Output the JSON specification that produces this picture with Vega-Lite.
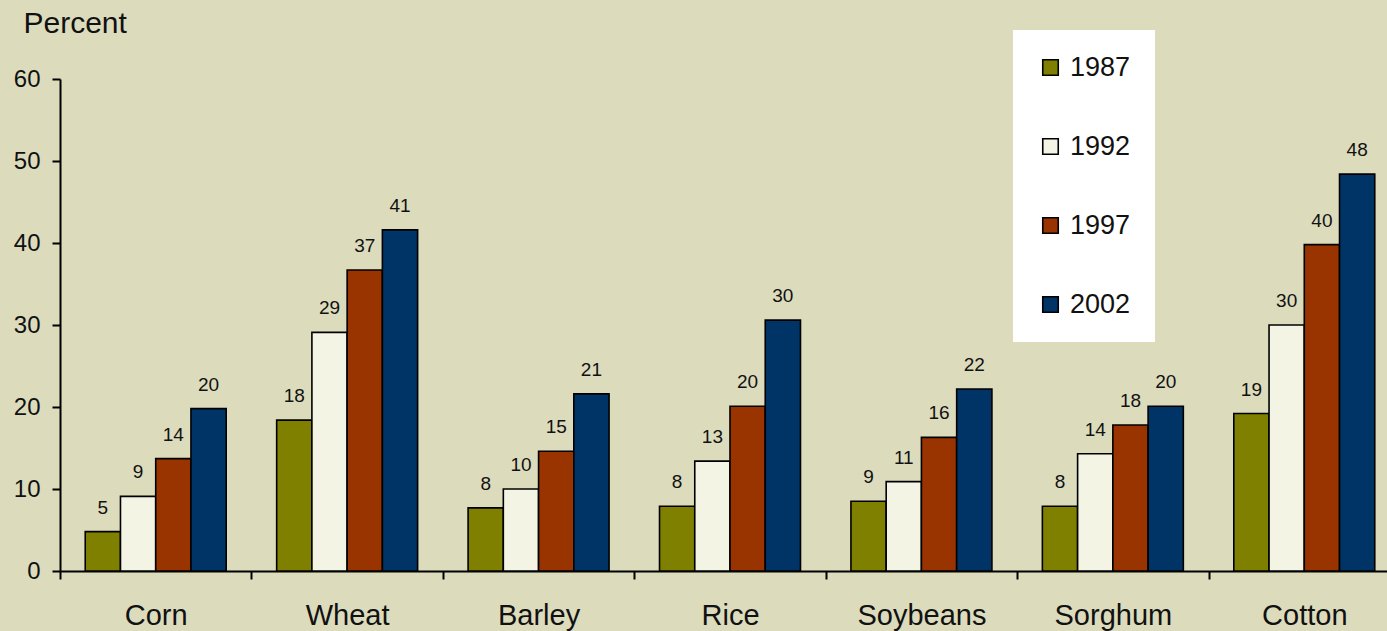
{
  "$schema": "https://vega.github.io/schema/vega-lite/v6.json",
  "width": 1340,
  "height": 492,
  "autosize": {"type": "none"},
  "padding": {"left": 60, "top": 79, "right": -13, "bottom": 60},
  "background": "#dcdcbd",
  "config": {
    "view": {"stroke": null},
    "font": "Liberation Sans",
    "axis": {"domainColor": "#000000", "tickColor": "#000000", "labelColor": "#111111", "titleColor": "#111111", "domainWidth": 2, "tickWidth": 2, "grid": false}
  },
  "data": {
    "values": [
      {"crop": "Corn", "year": "1987", "value": 4.8, "label": "5"},
      {"crop": "Corn", "year": "1992", "value": 9.1, "label": "9"},
      {"crop": "Corn", "year": "1997", "value": 13.7, "label": "14"},
      {"crop": "Corn", "year": "2002", "value": 19.8, "label": "20"},
      {"crop": "Wheat", "year": "1987", "value": 18.4, "label": "18"},
      {"crop": "Wheat", "year": "1992", "value": 29.1, "label": "29"},
      {"crop": "Wheat", "year": "1997", "value": 36.7, "label": "37"},
      {"crop": "Wheat", "year": "2002", "value": 41.6, "label": "41"},
      {"crop": "Barley", "year": "1987", "value": 7.7, "label": "8"},
      {"crop": "Barley", "year": "1992", "value": 10.0, "label": "10"},
      {"crop": "Barley", "year": "1997", "value": 14.6, "label": "15"},
      {"crop": "Barley", "year": "2002", "value": 21.6, "label": "21"},
      {"crop": "Rice", "year": "1987", "value": 7.9, "label": "8"},
      {"crop": "Rice", "year": "1992", "value": 13.4, "label": "13"},
      {"crop": "Rice", "year": "1997", "value": 20.1, "label": "20"},
      {"crop": "Rice", "year": "2002", "value": 30.6, "label": "30"},
      {"crop": "Soybeans", "year": "1987", "value": 8.5, "label": "9"},
      {"crop": "Soybeans", "year": "1992", "value": 10.9, "label": "11"},
      {"crop": "Soybeans", "year": "1997", "value": 16.3, "label": "16"},
      {"crop": "Soybeans", "year": "2002", "value": 22.2, "label": "22"},
      {"crop": "Sorghum", "year": "1987", "value": 7.9, "label": "8"},
      {"crop": "Sorghum", "year": "1992", "value": 14.3, "label": "14"},
      {"crop": "Sorghum", "year": "1997", "value": 17.8, "label": "18"},
      {"crop": "Sorghum", "year": "2002", "value": 20.1, "label": "20"},
      {"crop": "Cotton", "year": "1987", "value": 19.2, "label": "19"},
      {"crop": "Cotton", "year": "1992", "value": 30.0, "label": "30"},
      {"crop": "Cotton", "year": "1997", "value": 39.8, "label": "40"},
      {"crop": "Cotton", "year": "2002", "value": 48.4, "label": "48"}
    ]
  },
  "encoding": {
    "x": {
      "field": "crop",
      "type": "nominal",
      "sort": ["Corn", "Wheat", "Barley", "Rice", "Soybeans", "Sorghum", "Cotton"],
      "scale": {"paddingInner": 0, "paddingOuter": 0},
      "axis": {"title": null, "labelAngle": 0, "labelFontSize": 29, "labelPadding": 22, "tickSize": 8, "tickBand": "extent", "labelBaseline": "top"}
    },
    "xOffset": {
      "field": "year",
      "type": "nominal",
      "scale": {"paddingInner": 0, "paddingOuter": 0.716}
    },
    "y": {
      "field": "value",
      "type": "quantitative",
      "scale": {"domain": [0, 60], "nice": false},
      "axis": {"values": [0, 10, 20, 30, 40, 50, 60], "labelFontSize": 24, "tickSize": 8, "labelPadding": 12, "title": "Percent", "titleAngle": 0, "titleFontSize": 30, "titleFontWeight": "normal", "titleAlign": "left", "titleBaseline": "alphabetic", "titleX": -37, "titleY": -47}
    }
  },
  "layer": [
    {
      "mark": {"type": "bar", "stroke": "#000000", "strokeWidth": 1.6},
      "encoding": {
        "fill": {
          "field": "year",
          "type": "nominal",
          "scale": {"domain": ["1987", "1992", "1997", "2002"], "range": ["#808000", "#f4f4e4", "#993300", "#003366"]},
          "legend": {
            "title": null,
            "orient": "none",
            "legendX": 953,
            "legendY": -49,
            "fillColor": "#ffffff",
            "padding": 24,
            "rowPadding": 51,
            "symbolType": "square",
            "symbolSize": 240,
            "symbolStrokeColor": "#000000",
            "symbolStrokeWidth": 1.6,
            "labelFontSize": 27,
            "labelColor": "#111111",
            "labelOffset": 6
          }
        }
      }
    },
    {
      "mark": {"type": "text", "fontSize": 19, "color": "#111111", "baseline": "alphabetic", "dy": -18},
      "encoding": {"text": {"field": "label"}}
    }
  ]
}
